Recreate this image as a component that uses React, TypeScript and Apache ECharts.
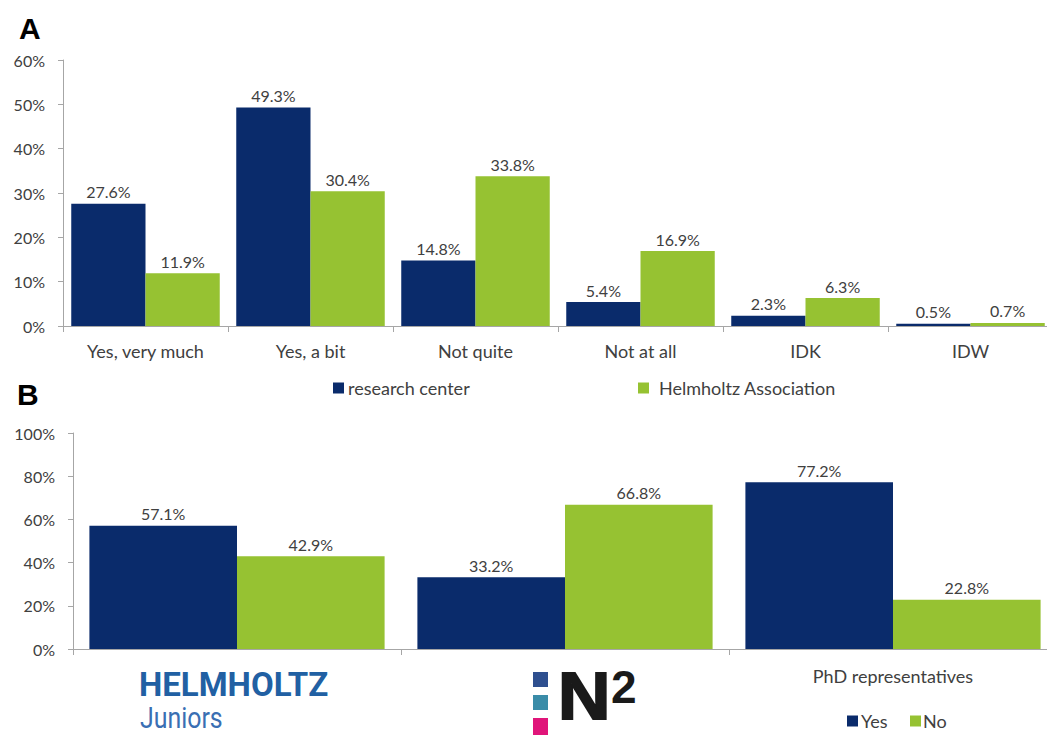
import React, { useEffect, useRef } from "react";
import * as echarts from "echarts";

const catsA = ["Yes, very much", "Yes, a bit", "Not quite", "Not at all", "IDK", "IDW"];
const researchCenter = [27.6, 49.3, 14.8, 5.4, 2.3, 0.5];
const helmholtzAssoc = [11.9, 30.4, 33.8, 16.9, 6.3, 0.7];

const catsB = ["Helmholtz Juniors", "N2", "PhD representatives"];
const yesVals = [57.1, 33.2, 77.2];
const noVals = [42.9, 66.8, 22.8];

const BLUE = "#0a2b6b";
const GREEN = "#96c232";
const TXT = "#404040";
const AXIS = "#a6a6a6";
const FONT = "Lato";

export default function App() {
  const ref = useRef<HTMLDivElement>(null);
  useEffect(() => {
    if (!ref.current) return;
    const chart = echarts.init(ref.current, null, { renderer: "svg" });
    const lbl = {
      show: true,
      position: "top",
      distance: 4,
      color: TXT,
      fontFamily: FONT,
      fontSize: 16,
      formatter: (p: any) => p.value.toFixed(1) + "%",
    };
    const legendBase = {
      icon: "rect",
      itemWidth: 11,
      itemHeight: 11,
      itemGap: 4,
      padding: 0,
    };
    const legText = (padLeft: number) => ({
      color: TXT,
      fontFamily: FONT,
      fontSize: 18,
      padding: [0, 0, 0, padLeft],
    });
    const option: any = {
      animation: false,
      backgroundColor: "#ffffff",
      grid: [
        { left: 63, top: 60, width: 990, height: 266, containLabel: false, outerBoundsMode: "none" },
        { left: 73, top: 433, width: 984, height: 216, containLabel: false, outerBoundsMode: "none" },
      ],
      legend: [
        { ...legendBase, data: ["research center"], left: 333, top: 379, textStyle: legText(-1) },
        { ...legendBase, data: ["Helmholtz Association"], left: 638, top: 379, textStyle: legText(5) },
        { ...legendBase, data: ["Yes"], left: 847, top: 712, textStyle: legText(-2) },
        { ...legendBase, data: ["No"], left: 910, top: 712, textStyle: legText(-3) },
      ],
      xAxis: [
        {
          type: "category",
          gridIndex: 0,
          data: catsA,
          axisLine: { lineStyle: { color: AXIS, width: 1 } },
          axisTick: { show: true, length: 6, lineStyle: { color: AXIS } },
          axisLabel: { color: TXT, fontFamily: FONT, fontSize: 18, margin: 16 },
        },
        {
          type: "category",
          gridIndex: 0,
          data: catsA,
          axisLine: { show: false },
          axisTick: { show: true, inside: true, length: 5, lineStyle: { color: AXIS } },
          axisLabel: { show: false },
        },
        {
          type: "category",
          gridIndex: 1,
          data: catsB,
          axisLine: { lineStyle: { color: AXIS, width: 1 } },
          axisTick: { show: true, length: 6, lineStyle: { color: AXIS } },
          axisLabel: {
            color: TXT,
            fontFamily: FONT,
            fontSize: 18,
            margin: 18,
            formatter: (v: string) => (v === "PhD representatives" ? v : ""),
          },
        },
        {
          type: "category",
          gridIndex: 1,
          data: catsB,
          axisLine: { show: false },
          axisTick: { show: true, inside: true, length: 5, lineStyle: { color: AXIS } },
          axisLabel: { show: false },
        },
      ],
      yAxis: [
        {
          type: "value",
          gridIndex: 0,
          min: 0,
          max: 60,
          interval: 10,
          splitLine: { show: false },
          axisLine: { show: true, lineStyle: { color: AXIS } },
          axisTick: { show: true, length: 5, lineStyle: { color: AXIS } },
          axisLabel: { color: TXT, fontFamily: FONT, fontSize: 16, margin: 18, formatter: "{value}%" },
        },
        {
          type: "value",
          gridIndex: 0,
          min: 0,
          max: 60,
          interval: 10,
          splitLine: { show: false },
          axisLine: { show: false },
          axisTick: { show: true, inside: true, length: 6, lineStyle: { color: AXIS } },
          axisLabel: { show: false },
        },
        {
          type: "value",
          gridIndex: 1,
          min: 0,
          max: 100,
          interval: 20,
          splitLine: { show: false },
          axisLine: { show: true, lineStyle: { color: AXIS } },
          axisTick: { show: true, length: 5, lineStyle: { color: AXIS } },
          axisLabel: { color: TXT, fontFamily: FONT, fontSize: 16, margin: 18, formatter: "{value}%" },
        },
        {
          type: "value",
          gridIndex: 1,
          min: 0,
          max: 100,
          interval: 20,
          splitLine: { show: false },
          axisLine: { show: false },
          axisTick: { show: true, inside: true, length: 6, lineStyle: { color: AXIS } },
          axisLabel: { show: false },
        },
      ],
      series: [
        {
          name: "research center",
          type: "bar",
          xAxisIndex: 0,
          yAxisIndex: 0,
          data: researchCenter,
          barGap: "0%",
          barCategoryGap: "10%",
          itemStyle: { color: BLUE },
          label: lbl,
        },
        {
          name: "Helmholtz Association",
          type: "bar",
          xAxisIndex: 0,
          yAxisIndex: 0,
          data: helmholtzAssoc,
          barGap: "0%",
          barCategoryGap: "10%",
          itemStyle: { color: GREEN },
          label: lbl,
        },
        {
          name: "Yes",
          type: "bar",
          xAxisIndex: 2,
          yAxisIndex: 2,
          data: yesVals,
          barGap: "0%",
          barCategoryGap: "10%",
          itemStyle: { color: BLUE },
          label: lbl,
        },
        {
          name: "No",
          type: "bar",
          xAxisIndex: 2,
          yAxisIndex: 2,
          data: noVals,
          barGap: "0%",
          barCategoryGap: "10%",
          itemStyle: { color: GREEN },
          label: lbl,
        },
      ],
      graphic: [
        {
          type: "text",
          x: 19,
          y: 13,
          style: { text: "A", fontFamily: "Liberation Sans", fontWeight: "bold", fontSize: 30, fill: "#000" },
        },
        {
          type: "text",
          x: 17,
          y: 379,
          style: { text: "B", fontFamily: "Liberation Sans", fontWeight: "bold", fontSize: 30, fill: "#000" },
        },
        {
          type: "text",
          x: 139,
          y: 668,
          style: { text: "HELMHOLTZ", fontFamily: "Roboto", fontWeight: "bold", fontSize: 33, fill: "#2160a3" },
        },
        {
          type: "text",
          x: 140,
          y: 703,
          scaleX: 0.83,
          style: { text: "Juniors", fontFamily: "Roboto", fontWeight: "normal", fontSize: 30, fill: "#3a6fb3" },
        },
        { type: "rect", shape: { x: 533, y: 672, width: 15, height: 15 }, style: { fill: "#2e4f8f" } },
        { type: "rect", shape: { x: 533, y: 695, width: 15, height: 15 }, style: { fill: "#3a8ca8" } },
        { type: "rect", shape: { x: 533, y: 718, width: 15, height: 17 }, style: { fill: "#e0157a" } },
        {
          type: "text",
          x: 558,
          y: 663,
          scaleX: 1.1,
          style: {
            text: "N",
            fontFamily: "Liberation Sans",
            fontWeight: "bold",
            fontSize: 66,
            fill: "#1a1a1a",
            stroke: "#1a1a1a",
            lineWidth: 2,
          },
        },
        {
          type: "text",
          x: 611,
          y: 664,
          style: { text: "2", fontFamily: "Liberation Sans", fontWeight: "bold", fontSize: 46, fill: "#1a1a1a" },
        },
      ],
    };
    chart.setOption(option);
    return () => chart.dispose();
  }, []);
  return (
    <div
      ref={ref}
      style={{ position: "fixed", left: 0, top: 0, width: 1047, height: 735, background: "#fff" }}
    />
  );
}
